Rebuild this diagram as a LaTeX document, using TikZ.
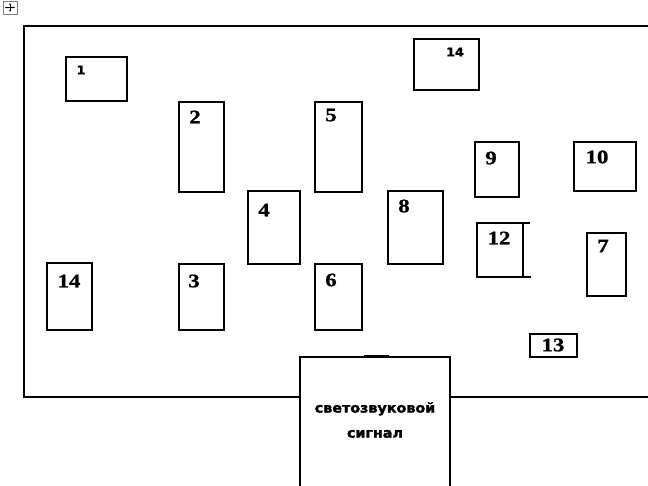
\documentclass[tikz,border=0pt]{standalone}
\usepackage{fontspec}
\setmainfont{Liberation Serif}
\newfontfamily\numfont{Liberation Serif}[FakeStretch=1.2, BoldFeatures={FakeBold=1.2}]
\newfontfamily\sigfont{DejaVu Sans}[BoldFont={DejaVu Sans Bold}, FakeStretch=1.06, BoldFeatures={FakeBold=2}]
\usetikzlibrary{arrows.meta, positioning}

\tikzset{
    cell/.style={line width=1.3pt},
    num/.style={font=\numfont\fontsize{19}{21}\selectfont\bfseries, inner sep=0pt},
    smallnum/.style={font=\sigfont\fontsize{12}{14}\selectfont\bfseries, inner sep=0pt}
}

\begin{document}
\begin{tikzpicture}[x=1pt, y=-1pt]
    \useasboundingbox (0,0) rectangle (648,486);

    % table anchor icon
    \draw[gray, line width=0.6pt] (3,1) rectangle (17,14);
    \draw[-{Stealth[length=2pt]}, line width=0.7pt] (10,7.5) -- (10,3);
    \draw[-{Stealth[length=2pt]}, line width=0.7pt] (10,7.5) -- (10,12);
    \draw[-{Stealth[length=2pt]}, line width=0.7pt] (10,7.5) -- (5,7.5);
    \draw[-{Stealth[length=2pt]}, line width=0.7pt] (10,7.5) -- (15,7.5);

    % Room outline (open on the right)
    \draw[cell] (648,26) -- (24,26) -- (24,397) -- (300,397);
    \draw[cell] (450,397) -- (648,397);

    % Signal box
    \draw[cell] (300,486) -- (300,357) -- (450,357) -- (450,486);
    \draw[line width=2pt] (364,356) -- (389,356);
    \node[font=\sigfont\fontsize{13.5}{25}\selectfont\bfseries, align=center, inner sep=0pt]
        (signal) at (375,420) {светозвуковой\\сигнал};

    % Boxes: x1/y1/x2/y2
    \foreach \xa/\ya/\xb/\yb in {66/57/127/101, 414/39/479/90, 179/102/224/192,
        315/102/362/192, 475/142/519/197, 574/142/636/191, 248/191/300/264,
        388/191/443/264, 587/233/626/296, 47/263/92/330, 179/264/224/330,
        315/264/362/330, 530/334/577/357} {
        \draw[cell] (\xa,\ya) rectangle (\xb,\yb);
    }

    % Box 12 with extended edges
    \draw[cell] (530,223) -- (477,223) -- (477,277) -- (531,277);
    \draw[cell] (523,223) -- (523,277);

    % Numbers
    \node[smallnum] (n1) at (81,70) {1};
    \node[smallnum] (n14a) at (455,52) {14};
    \foreach \n/\x/\y/\t in {2/195/117/2, 5/331/115/5, 4/264/210/4, 3/194/281/3,
        6/331/280/6, 14b/69/281/14, 8/404/206/8, 9/491/158/9, 10/597/157/10,
        12/499/238/12, 7/603/246/7, 13/553/345/13} {
        \node[num] (n\n) at (\x,\y) {\t};
    }
\end{tikzpicture}
\end{document}
